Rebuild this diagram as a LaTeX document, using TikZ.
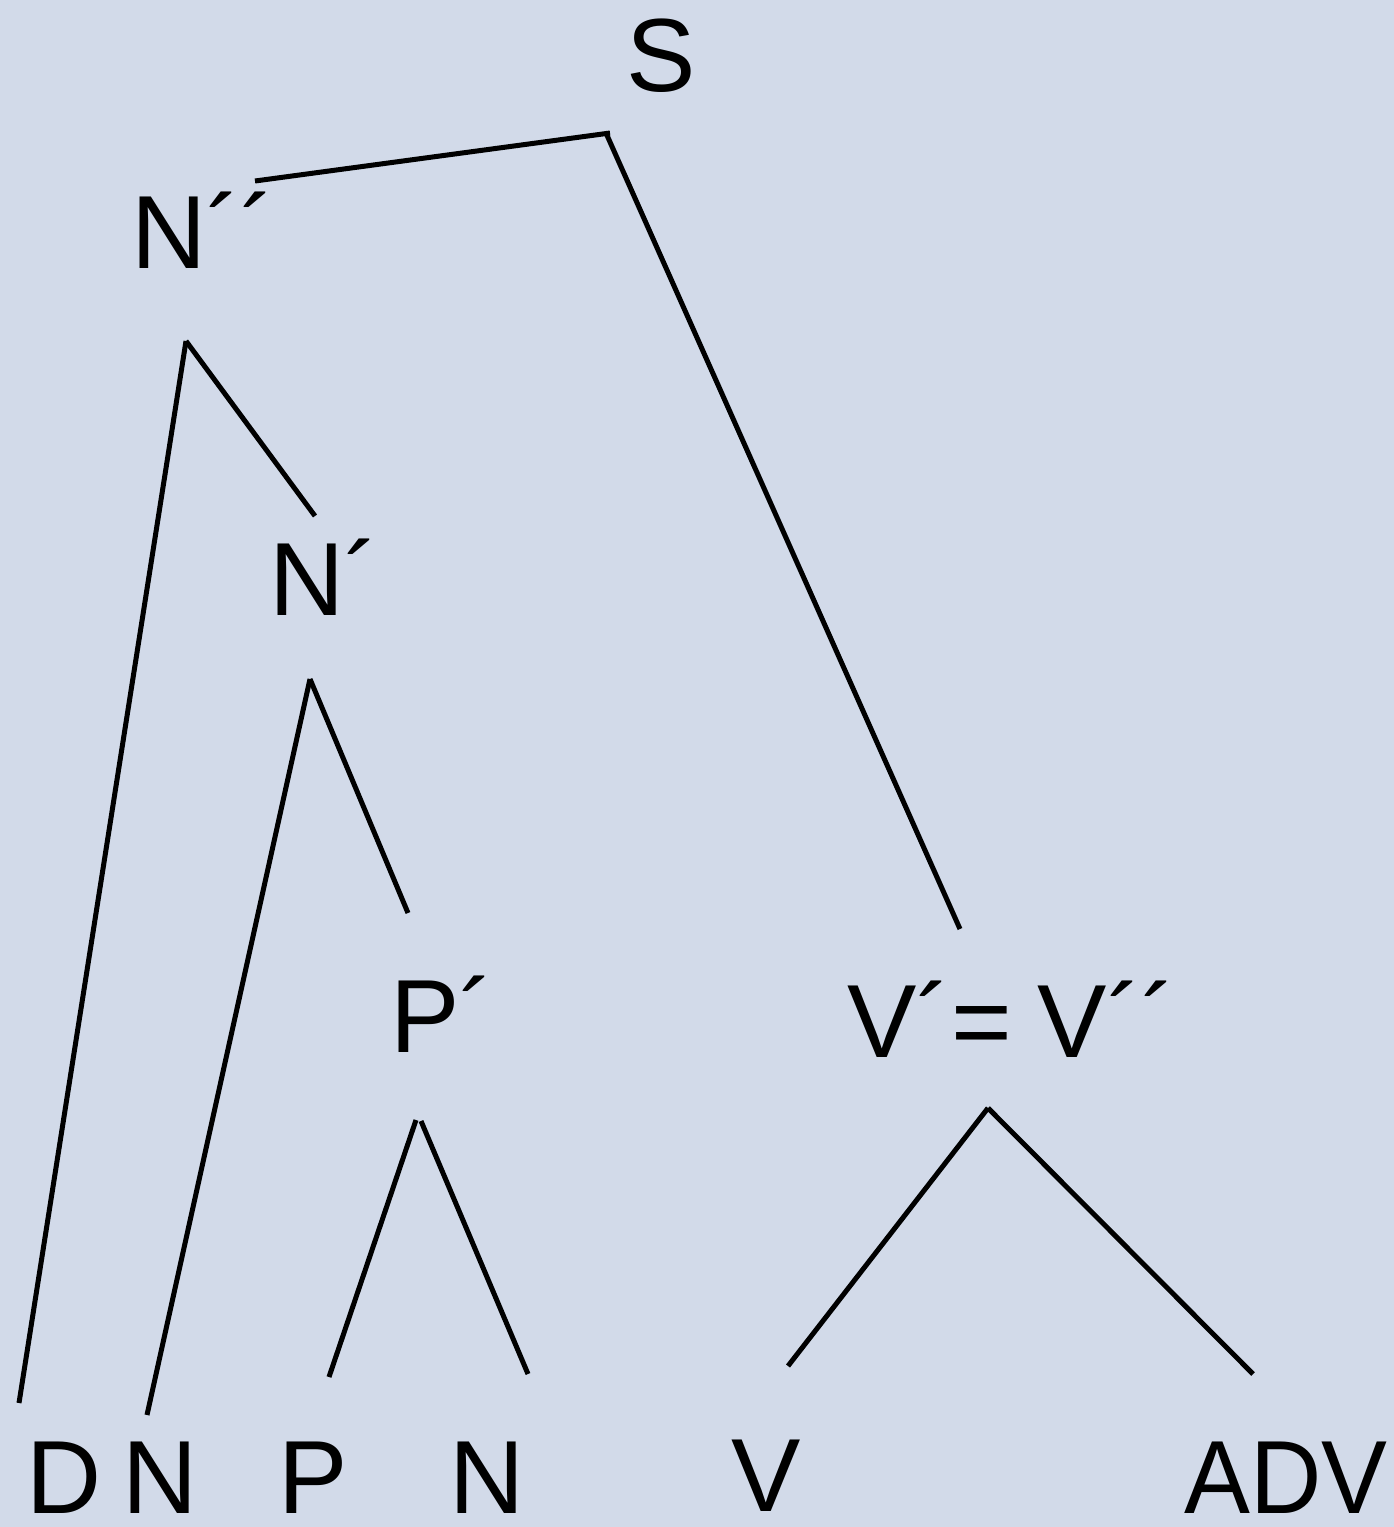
\documentclass[tikz,border=0pt]{standalone}
\usepackage{fontspec}
\setmainfont{Liberation Sans}
\definecolor{bgc}{RGB}{210,218,233}
\tikzset{
  lbl/.style={inner sep=0pt, anchor=base west, font=\fontsize{104}{110}\selectfont, text=black},
  edge/.style={line width=5pt, black}
}
\begin{document}
\begin{tikzpicture}[x=1pt,y=-1pt]
\fill[bgc] (0,0) rectangle (1394,1527);
\useasboundingbox (0,0) rectangle (1394,1527);
% labels
\node[lbl] (S) at (626,91) {S};
\node[lbl] (Npp) at (131,268) {N´´};
\node[lbl] (Np) at (269,615) {N´};
\node[lbl] (Pp) at (390,1052) {P´};
\node[lbl] (Vp) at (847,1057) {V´=\kern-3pt\ V´´};
\node[lbl] (D) at (26,1513) {D};
\node[lbl] (N1) at (122,1513) {N};
\node[lbl] (P) at (278,1513) {P};
\node[lbl] (N2) at (449,1513) {N};
\node[lbl] (V) at (731,1511) {V};
\node[lbl, transform shape, xscale=0.95] (ADV) at (1184,1513) {ADV};
% connector end points
\coordinate (S-b) at (606,133);
\coordinate (S-bb) at (610,133);
\coordinate (Npp-t) at (255,181);
\coordinate (Vp-t) at (960,929);
\coordinate (Npp-b) at (186,341);
\coordinate (D-t) at (19,1403);
\coordinate (Np-t) at (315,516);
\coordinate (Np-b) at (310,679);
\coordinate (N1-t) at (147,1415);
\coordinate (Pp-t) at (408,913);
\coordinate (Pp-bl) at (416,1120);
\coordinate (Pp-br) at (421,1121);
\coordinate (P-t) at (329,1377);
\coordinate (N2-t) at (528,1374);
\coordinate (Vp-b) at (988,1108);
\coordinate (V-t) at (788,1366);
\coordinate (ADV-t) at (1253,1374);
% connectors
\draw[edge] (S-bb) -- (Npp-t);
\draw[edge] (S-b) -- (Vp-t);
\draw[edge] (Npp-b) -- (D-t);
\draw[edge] (Npp-b) -- (Np-t);
\draw[edge] (Np-b) -- (N1-t);
\draw[edge] (Np-b) -- (Pp-t);
\draw[edge] (Pp-bl) -- (P-t);
\draw[edge] (Pp-br) -- (N2-t);
\draw[edge] (Vp-b) -- (V-t);
\draw[edge] (Vp-b) -- (ADV-t);
\end{tikzpicture}
\end{document}
